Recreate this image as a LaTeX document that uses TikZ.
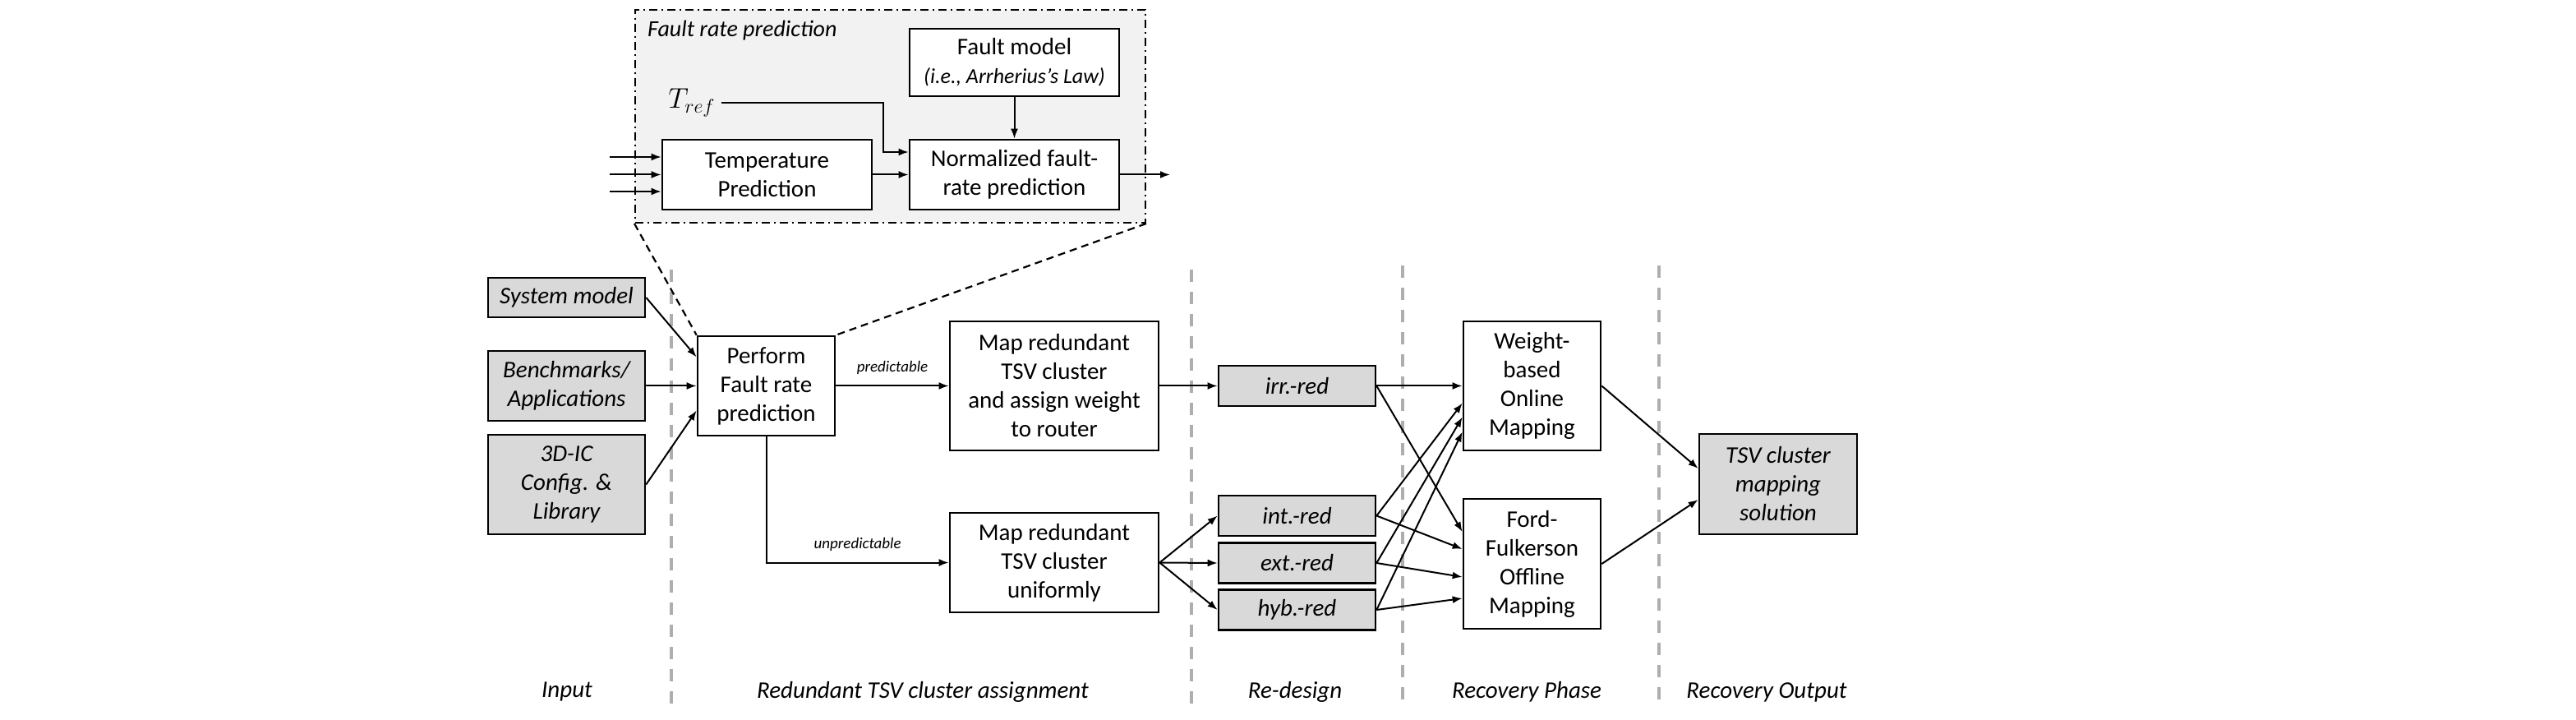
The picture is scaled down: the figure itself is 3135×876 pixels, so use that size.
\documentclass[tikz,border=0pt]{standalone}
\usepackage{fontspec}
\setmainfont{Carlito}
\usetikzlibrary{arrows.meta,calc}
\definecolor{inputgray}{RGB}{217,217,217}
\definecolor{framegray}{RGB}{242,242,242}
\definecolor{sepgray}{RGB}{175,173,173}
\begin{document}
\begin{tikzpicture}[x=0.5pt,y=-0.5pt,
  every node/.style={font=\fontsize{14.5}{17.5}\selectfont},
  box/.style={draw, line width=1.3pt, align=center, inner sep=1pt, fill=white},
  gbox/.style={box, fill=inputgray, font=\fontsize{14.5}{17.5}\selectfont\itshape},
  arr/.style={-{Latex[length=6pt,width=4.5pt]}, line width=1pt},
  small/.style={font=\fontsize{9.5}{11}\selectfont\itshape},
  sep/.style={draw=sepgray, line width=2pt, dash pattern=on 7.5pt off 6pt},
  link/.style={line width=1.1pt, dash pattern=on 4.5pt off 3pt},
  frameline/.style={draw, line width=1pt, fill=framegray, dash pattern=on 5pt off 2.5pt on 1pt off 2.5pt}
]
\useasboundingbox (0,0) rectangle (3135,876);

% Fault rate prediction frame
\node[frameline, minimum width=310.5pt, minimum height=129.5pt, inner sep=0pt] (frame) at (1083.5,141.5) {};
\node[anchor=west, font=\fontsize{14}{16}\selectfont\itshape] (ftitle) at (781,37) {Fault rate prediction};
\node[box, minimum width=127.5pt, minimum height=41pt] (fmodel) at (1234.5,76) {Fault model\\{\fontsize{13}{17.5}\selectfont\itshape (i.e., Arrherius's Law)}};
\node[box, minimum width=127.5pt, minimum height=42.5pt] (temp) at (933.5,212.5) {Temperature\\Prediction};
\node[box, minimum width=127.5pt, minimum height=42.5pt] (norm) at (1234.5,212.5) {Normalized fault-\\rate prediction};
\node[font=\fontsize{17}{19}\selectfont] (tref) at (842,125) {$T_{ref}$};

\coordinate (in1) at (742,191);
\coordinate (in2) at (742,212.5);
\coordinate (in3) at (742,233);
\coordinate (fout) at (1424,212.5);
\coordinate (tin) at ([yshift=13.75pt]norm.west);
\draw[arr] (in1) -- (in1 -| temp.west);
\draw[arr] (in2) -- (in2 -| temp.west);
\draw[arr] (in3) -- (in3 -| temp.west);
\draw[arr] (temp.east) -- (norm.west);
\draw[arr] (tref.east) -| ([xshift=-15.5pt]tin) -- (tin);
\draw[arr] (fmodel.south) -- (norm.north);
\draw[arr] (norm.east) -- (fout);

% separators
\draw[sep] (817,328) -- (817,859);
\draw[sep] (1450,328) -- (1450,859);
\draw[sep] (1707,323) -- (1707,859);
\draw[sep] (2019,323) -- (2019,859);

% main nodes
\node[gbox, minimum width=95.5pt, minimum height=24pt] (sys) at (689.5,362) {System model};
\node[gbox, minimum width=95.5pt, minimum height=42.5pt] (bench) at (689.5,469.5) {Benchmarks/\\Applications};
\node[gbox, minimum width=95.5pt, minimum height=60.5pt] (ic) at (689.5,589.5) {3D-IC\\Config. \&\\Library};
\node[box, minimum width=83.5pt, minimum height=60.5pt] (perform) at (932.5,469.5) {Perform\\Fault rate\\prediction};
\node[box, minimum width=127pt, minimum height=78.5pt] (map1) at (1283,469.5) {Map redundant\\TSV cluster\\and assign weight\\to router};
\node[box, minimum width=127pt, minimum height=60.5pt] (map2) at (1283,684.5) {Map redundant\\TSV cluster\\uniformly};
\node[gbox, minimum width=95.5pt, minimum height=24.5pt] (irr) at (1578.5,469.5) {irr.-red};
\node[gbox, minimum width=95.5pt, minimum height=24.5pt] (int) at (1578.5,627.5) {int.-red};
\node[gbox, minimum width=95.5pt, minimum height=24.5pt] (ext) at (1578.5,685) {ext.-red};
\node[gbox, minimum width=95.5pt, minimum height=24.5pt] (hyb) at (1578.5,742) {hyb.-red};
\node[box, minimum width=83.5pt, minimum height=78.5pt] (weight) at (1864.5,469.5) {Weight-\\based\\Online\\Mapping};
\node[box, minimum width=83.5pt, minimum height=79pt] (ford) at (1864.5,686) {Ford-\\Fulkerson\\Offline\\Mapping};
\node[gbox, minimum width=96pt, minimum height=61pt] (sol) at (2164,589) {TSV cluster\\mapping\\solution};

% zoom lines
\draw[link] (frame.south west) -- (perform.north west);
\draw[link] (frame.south east) -- (perform.north east);

% connectors
\draw[arr] (sys.east) -- ([yshift=17.5pt]perform.west);
\draw[arr] (bench.east) -- (perform.west);
\draw[arr] (ic.east) -- ([yshift=-15pt]perform.west);
\draw[arr] (perform.east) -- node[small, above=3pt] (lpred) {predictable} (map1.west);
\draw[arr] (perform.south) |- node[small, pos=0.75, above=3pt] (lunpred) {unpredictable} (map2.west);
\draw[arr] (map1.east) -- (irr.west);
\draw[arr] (map2.east) -- (int.west);
\draw[arr] (map2.east) -- (ext.west);
\draw[arr] (map2.east) -- (hyb.west);
\draw[arr] (irr.east) -- (weight.west);
\draw[arr] (irr.east) -- ([yshift=19.5pt]ford.west);
\draw[arr] (int.east) -- ([yshift=-10.5pt]weight.west);
\draw[arr] (int.east) -- ([yshift=9pt]ford.west);
\draw[arr] (ext.east) -- ([yshift=-19pt]weight.west);
\draw[arr] (ext.east) -- ([yshift=-8pt]ford.west);
\draw[arr] (hyb.east) -- ([yshift=-28pt]weight.west);
\draw[arr] (hyb.east) -- ([yshift=-21pt]ford.west);
\draw[arr] (weight.east) -- ([yshift=9.5pt]sol.west);
\draw[arr] (ford.east) -- ([yshift=-9.5pt]sol.west);

% phase labels
\node[font=\fontsize{14.5}{17.5}\selectfont\itshape] (pin) at (690,842) {Input};
\node[font=\fontsize{14.5}{17.5}\selectfont\itshape] (pred) at (1123,842) {Redundant TSV cluster assignment};
\node[font=\fontsize{14.5}{17.5}\selectfont\itshape] (pre) at (1576,842) {Re-design};
\node[font=\fontsize{14.5}{17.5}\selectfont\itshape] (prec) at (1858,842) {Recovery Phase};
\node[font=\fontsize{14.5}{17.5}\selectfont\itshape] (pout) at (2150,842) {Recovery Output};
\end{tikzpicture}
\end{document}
